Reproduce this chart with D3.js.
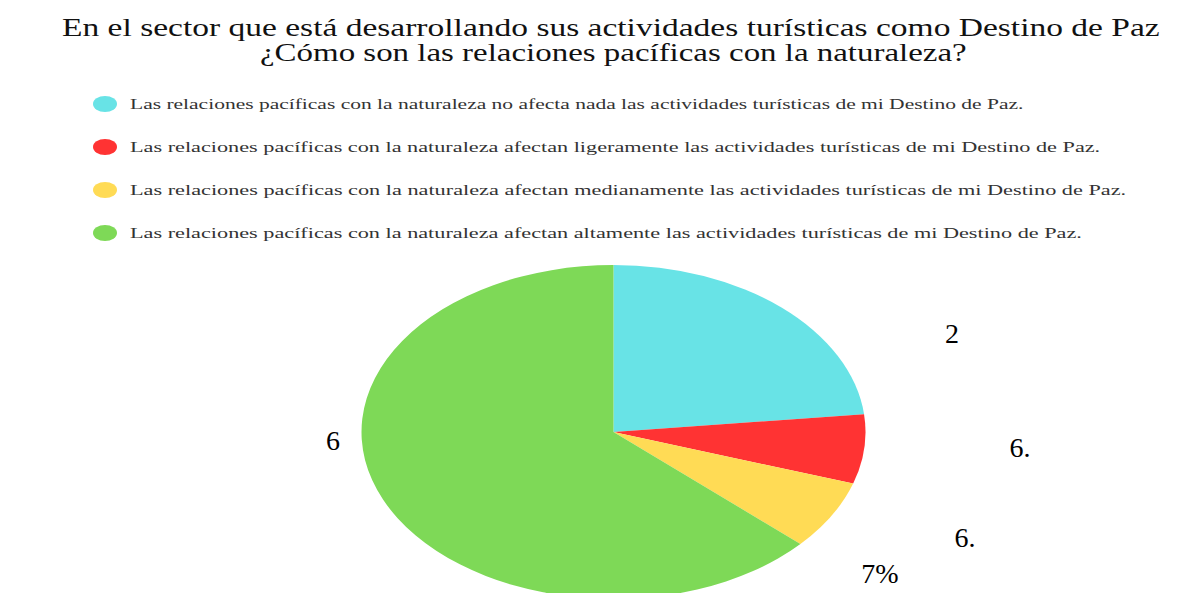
<!DOCTYPE html>
<html><head><meta charset="utf-8">
<script src="https://cdn.jsdelivr.net/npm/d3@7"></script>
</head><body style="margin:0">
<svg id="c" width="1203" height="593" style="font-family:'Liberation Serif';display:block"></svg>
<script>
const titleLines = ["En el sector que está desarrollando sus actividades turísticas como Destino de Paz", "¿Cómo son las relaciones pacíficas con la naturaleza?"];
const categories = [
  "Las relaciones pacíficas con la naturaleza no afecta nada las actividades turísticas de mi Destino de Paz.",
  "Las relaciones pacíficas con la naturaleza afectan ligeramente las actividades turísticas de mi Destino de Paz.",
  "Las relaciones pacíficas con la naturaleza afectan medianamente las actividades turísticas de mi Destino de Paz.",
  "Las relaciones pacíficas con la naturaleza afectan altamente las actividades turísticas de mi Destino de Paz."
];
const values = [23.3, 6.7, 6.7, 63.3];
const colors = ["#68e3e6", "#ff3333", "#ffdb55", "#7ed957"];
const sliceLabels = ["2", "6.", "6.", "6"];
const extraLabel = "7%";

const svg = d3.select("#c");

// stretched text helper: places text so it spans [x0, x1] horizontally
function stretchText(str, x0, x1, y, size, fill) {
  const t = svg.append("text").attr("x", 0).attr("y", 0)
    .style("font-size", size + "px").attr("fill", fill).text(str);
  const w = t.node().getComputedTextLength();
  t.attr("transform", `translate(${x0},${y}) scale(${(x1 - x0) / w},1)`);
  return t;
}

// Title
stretchText(titleLines[0], 62, 1160, 36, 24.5, "#111");
stretchText(titleLines[1], 260, 967, 61, 24.5, "#111");

// Legend
const legY = d3.scalePoint().domain(d3.range(categories.length)).range([104, 233]);
const legEnd = [1024, 1101, 1127, 1083];
categories.forEach((c,i)=>{
  const y = legY(i);
  svg.append("ellipse").attr("cx", 105).attr("cy", y).attr("rx", 12).attr("ry", 8).attr("fill", colors[i]);
  stretchText(c, 130, legEnd[i], y + 5, 15.5, "#333");
});

// Pie (drawn as circle, scaled to ellipse)
const cx = 613.5, cy = 432, rx = 252, ry = 167;
const pie = d3.pie().sort(null).value(d=>d)(values);
const arc = d3.arc().innerRadius(0).outerRadius(100);
const g = svg.append("g").attr("transform", `translate(${cx},${cy}) scale(${rx/100},${ry/100})`);
g.selectAll("path").data(pie).join("path").attr("d", arc).attr("fill", (d,i)=>colors[i]);

// Labels
const labelPos = [[952,343],[1020,457],[965,547],[333,450]];
sliceLabels.forEach((l,i)=>{
  svg.append("text").attr("x", labelPos[i][0]).attr("y", labelPos[i][1])
    .attr("text-anchor","middle").style("font-size", "28px").attr("fill","#000")
    .text(l);
});
svg.append("text").attr("x", 880).attr("y", 583).attr("text-anchor","middle")
  .style("font-size", "28px").attr("fill","#000").text(extraLabel);
</script>
</body></html>
